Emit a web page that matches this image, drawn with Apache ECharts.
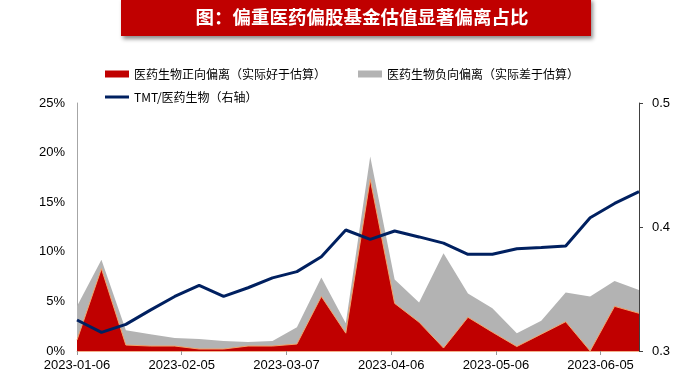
<!DOCTYPE html>
<html>
<head>
<meta charset="utf-8">
<script src="https://cdn.jsdelivr.net/npm/echarts@6/dist/echarts.min.js"></script>
<style>
html,body{margin:0;padding:0;background:#fff;}
#chart{width:682px;height:373px;}
</style>
</head>
<body>
<div id="chart"></div>
<script>
var dates = ["2023-01-06","2023-01-13","2023-01-20","2023-01-27","2023-02-03","2023-02-10","2023-02-17","2023-02-24","2023-03-03","2023-03-10","2023-03-17","2023-03-24","2023-03-31","2023-04-07","2023-04-14","2023-04-21","2023-04-28","2023-05-05","2023-05-12","2023-05-19","2023-05-26","2023-06-02","2023-06-09","2023-06-16"];
var positiveDev = [1.1,8.3,0.6,0.5,0.5,0.2,0.2,0.5,0.5,0.7,5.5,1.8,17.3,4.8,2.9,0.3,3.4,1.9,0.45,1.7,2.95,0.0,4.5,3.8];
var negativeDev = [3.4,0.9,1.5,1.2,0.8,1.0,0.8,0.4,0.5,1.7,1.9,1.0,2.3,2.4,2.0,9.55,2.4,2.4,1.35,1.35,2.95,5.5,2.55,2.35];
var tmtRatio = [0.325,0.315,0.3215,0.333,0.344,0.353,0.344,0.351,0.359,0.364,0.376,0.3976,0.390,0.3968,0.392,0.387,0.378,0.378,0.3825,0.3835,0.3847,0.4075,0.419,0.4285];
var xTickDays = [0,30,60,90,120,150];
var titleText = "图：偏重医药偏股基金估值显著偏离占比";
var names = ["医药生物正向偏离（实际好于估算）","医药生物负向偏离（实际差于估算）","TMT/医药生物（右轴）"];

var DAY = 86400000;
var base = Date.parse(dates[0]);
var days = dates.map(function(d){ return (Date.parse(d) - base) / DAY; });
function pair(arr){ return arr.map(function(v,i){ return [days[i], v]; }); }
function fmtDate(v){ return new Date(base + v*DAY).toISOString().slice(0,10); }
// stacked top of the negative-deviation band (sits on top of the positive band)
var stackedNeg = negativeDev.map(function(v,i){ return +(v + positiveDev[i]).toFixed(3); });

var chart = echarts.init(document.getElementById('chart'), null, {renderer:'canvas'});
var font = "'Liberation Sans', Arial, sans-serif";
var cjk = "'Noto Sans CJK SC', sans-serif";
chart.setOption({
  animation:false,
  backgroundColor:'#fff',
  graphic:[
    {type:'rect', shape:{x:121,y:-2,width:470,height:38},
     style:{fill:'#C00000', shadowBlur:4, shadowOffsetX:2, shadowOffsetY:3, shadowColor:'rgba(0,0,0,0.45)'}},
    {type:'text', x:362, y:17,
     style:{text:titleText, fill:'#fff', font:"bold 18.5px 'Noto Sans CJK SC', sans-serif", align:'center', verticalAlign:'middle'}}
  ],
  legend:[
    {left:105, top:68, padding:0, itemGap:32, itemWidth:24, itemHeight:7,
     textStyle:{fontFamily:cjk, fontSize:12, color:'#000'},
     data:[
       {name:names[0], icon:'rect', itemStyle:{color:'#C00000', borderWidth:0}},
       {name:names[1], icon:'rect', itemStyle:{color:'#B3B3B3', borderWidth:0}}
     ]},
    {left:105, top:91, padding:0, itemWidth:24, itemHeight:3,
     textStyle:{fontFamily:cjk, fontSize:12, color:'#000'},
     data:[{name:names[2], icon:'rect', itemStyle:{color:'#002060', borderWidth:0}}]}
  ],
  grid:{left:77, right:43, top:103, bottom:22},
  xAxis:{
    type:'value', min:0, max:days[days.length-1], interval:30,
    splitLine:{show:false},
    axisLine:{show:true, lineStyle:{color:'#F2B08A', width:1}},
    axisTick:{show:true, length:4, lineStyle:{color:'#999'}, customValues:xTickDays},
    axisLabel:{customValues:xTickDays, margin:8, fontFamily:font, fontSize:13, color:'#000',
      formatter:function(v){ return fmtDate(v); }}
  },
  yAxis:[
    {type:'value', min:0, max:25, interval:5,
     splitLine:{show:false},
     axisLine:{show:true, lineStyle:{color:'#A6A6A6'}},
     axisTick:{show:false},
     axisLabel:{margin:12, fontFamily:font, fontSize:13, color:'#000', formatter:'{value}%'}},
    {type:'value', min:0.3, max:0.5, interval:0.1, position:'right',
     splitLine:{show:false},
     axisLine:{show:true, lineStyle:{color:'#404040'}},
     axisTick:{show:true, inside:false, length:4, lineStyle:{color:'#404040'}},
     axisLabel:{margin:13, fontFamily:font, fontSize:13, color:'#000', formatter:function(v){ return v.toFixed(1); }}}
  ],
  series:[
    {name:names[1], type:'line', data:pair(stackedNeg), symbol:'none', z:2,
     itemStyle:{color:'#B3B3B3'},
     lineStyle:{width:0, color:'#B3B3B3'},
     areaStyle:{color:'#B3B3B3', opacity:1}},
    {name:names[0], type:'line', data:pair(positiveDev), symbol:'none', z:3,
     itemStyle:{color:'#C00000'},
     lineStyle:{color:'#F4A46A', width:1},
     areaStyle:{color:'#C00000', opacity:1}},
    {name:names[2], type:'line', yAxisIndex:1, data:pair(tmtRatio), symbol:'none', z:5,
     itemStyle:{color:'#002060'},
     lineStyle:{color:'#002060', width:3}}
  ]
});
</script>
</body>
</html>
